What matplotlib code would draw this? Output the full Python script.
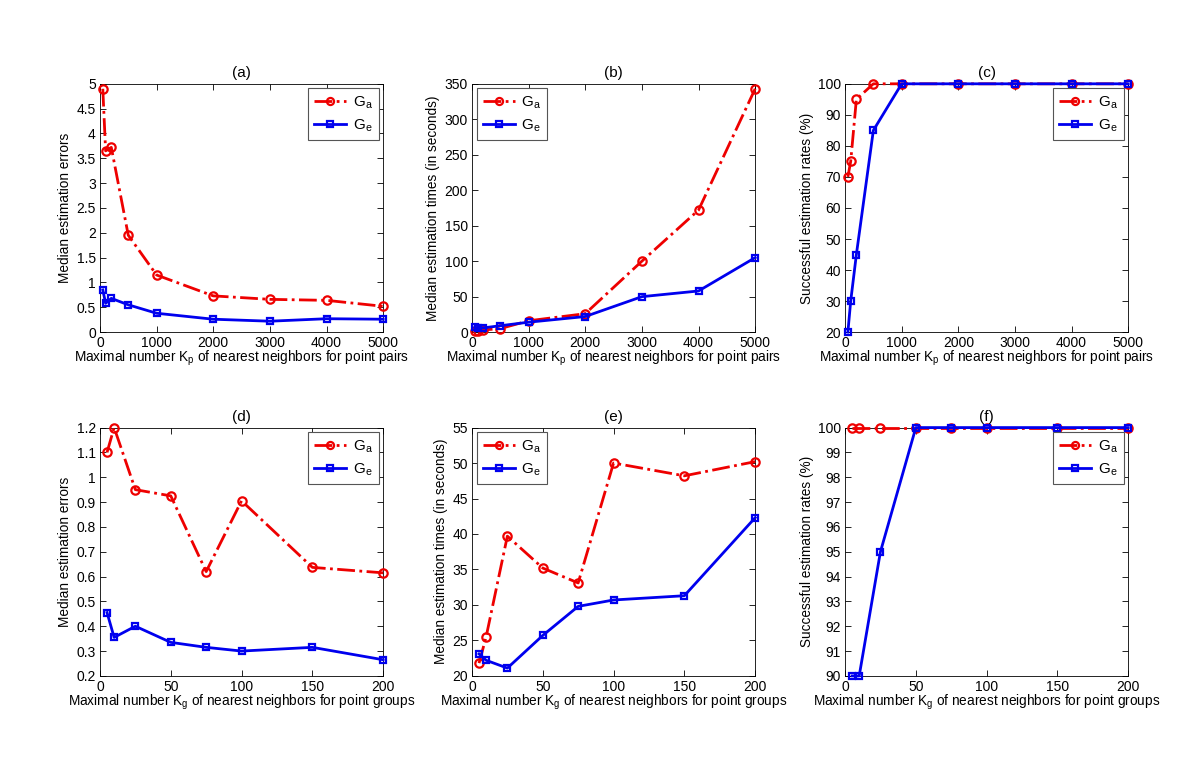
import matplotlib
matplotlib.use("Agg")
import matplotlib.pyplot as plt

plt.rcParams['font.family'] = ['Liberation Sans', 'DejaVu Sans']
plt.rcParams['mathtext.fontset'] = 'custom'
plt.rcParams['mathtext.rm'] = 'Liberation Sans'
plt.rcParams['mathtext.it'] = 'Liberation Sans'

# Top row: K_p values
kp = [50, 100, 200, 500, 1000, 2000, 3000, 4000, 5000]
a_ga = [4.9, 3.65, 3.72, 1.95, 1.15, 0.73, 0.66, 0.64, 0.52]
a_ge = [0.85, 0.58, 0.68, 0.55, 0.38, 0.26, 0.22, 0.27, 0.26]
b_ga = [2, 2, 3, 5, 16, 26, 100, 172, 343]
b_ge = [7, 6, 6, 9, 14, 22, 50, 58, 105]
c_ga = [70, 75, 95, 100, 100, 100, 100, 100, 100]
c_ge = [20, 30, 45, 85, 100, 100, 100, 100, 100]

# Bottom row: K_g values
kg = [5, 10, 25, 50, 75, 100, 150, 200]
d_ga = [1.1, 1.2, 0.95, 0.925, 0.62, 0.905, 0.637, 0.615]
d_ge = [0.455, 0.355, 0.40, 0.335, 0.315, 0.30, 0.315, 0.265]
e_ga = [21.8, 25.5, 39.7, 35.2, 33.1, 50.0, 48.2, 50.2]
e_ge = [23.1, 22.2, 21.1, 25.7, 29.8, 30.7, 31.3, 42.3]
f_ga = [100, 100, 100, 100, 100, 100, 100, 100]
f_ge = [90, 90, 95, 100, 100, 100, 100, 100]

titles = ['(a)', '(b)', '(c)', '(d)', '(e)', '(f)']
ylabels = ['Median estimation errors', 'Median estimation times (in seconds)',
           'Successful estimation rates (%)'] * 2
xlab_p = 'Maximal number K$_\\mathrm{p}$ of nearest neighbors for point pairs'
xlab_g = 'Maximal number K$_\\mathrm{g}$ of nearest neighbors for point groups'

fig = plt.figure(figsize=(12, 7.76), dpi=100)
lefts = [0.0833, 0.3933, 0.7042]
bottoms = [0.572, 0.129]
w, h = 0.236, 0.320

panels = [
    (kp, a_ga, a_ge, (0, 5000), (0, 5), [0, 1000, 2000, 3000, 4000, 5000],
     [0, 0.5, 1, 1.5, 2, 2.5, 3, 3.5, 4, 4.5, 5], 'upper right', xlab_p),
    (kp, b_ga, b_ge, (0, 5000), (0, 350), [0, 1000, 2000, 3000, 4000, 5000],
     [0, 50, 100, 150, 200, 250, 300, 350], 'upper left', xlab_p),
    (kp, c_ga, c_ge, (0, 5000), (20, 100), [0, 1000, 2000, 3000, 4000, 5000],
     [20, 30, 40, 50, 60, 70, 80, 90, 100], 'upper right', xlab_p),
    (kg, d_ga, d_ge, (0, 200), (0.2, 1.2), [0, 50, 100, 150, 200],
     [0.2, 0.3, 0.4, 0.5, 0.6, 0.7, 0.8, 0.9, 1, 1.1, 1.2], 'upper right', xlab_g),
    (kg, e_ga, e_ge, (0, 200), (20, 55), [0, 50, 100, 150, 200],
     [20, 25, 30, 35, 40, 45, 50, 55], 'upper left', xlab_g),
    (kg, f_ga, f_ge, (0, 200), (90, 100), [0, 50, 100, 150, 200],
     list(range(90, 101)), 'upper right', xlab_g),
]

def fmt(v):
    return '%g' % v

for i, (x, ga, ge, xl, yl, xt, yt, loc, xlab) in enumerate(panels):
    r, c = divmod(i, 3)
    ax = fig.add_axes([lefts[c], bottoms[r], w, h])
    ax.plot(x, ga, color='#ee0000', linestyle='-.', linewidth=2,
            marker='o', markersize=6, markerfacecolor='none',
            markeredgewidth=1.6, label='G$_\\mathrm{a}$', clip_on=False, zorder=3)
    ax.plot(x, ge, color='#0000ee', linestyle='-', linewidth=2,
            marker='s', markersize=5, markerfacecolor='none',
            markeredgewidth=1.6, label='G$_\\mathrm{e}$', clip_on=False, zorder=3)
    ax.set_xlim(*xl)
    ax.set_ylim(*yl)
    ax.set_xticks(xt)
    ax.set_yticks(yt)
    ax.set_xticklabels([fmt(v) for v in xt])
    ax.set_yticklabels([fmt(v) for v in yt])
    ax.tick_params(direction='in', top=True, right=True, labelsize=10,
                   length=4, width=0.6, pad=3)
    for sp in ax.spines.values():
        sp.set_linewidth(0.6)
    ax.set_title(titles[i], fontsize=11, pad=5)
    ax.set_ylabel(ylabels[i], fontsize=9.8, labelpad=3)
    ax.set_xlabel(xlab, fontsize=9.8, labelpad=-1)
    leg = ax.legend(loc=loc, fontsize=11, fancybox=False, framealpha=1,
                    edgecolor='#555555', borderaxespad=0.3, handlelength=2.1,
                    borderpad=0.4, labelspacing=0.45, handletextpad=0.4,
                    markerscale=0.85)
    leg.get_frame().set_linewidth(0.8)

fig.savefig('out.png', dpi=100)
